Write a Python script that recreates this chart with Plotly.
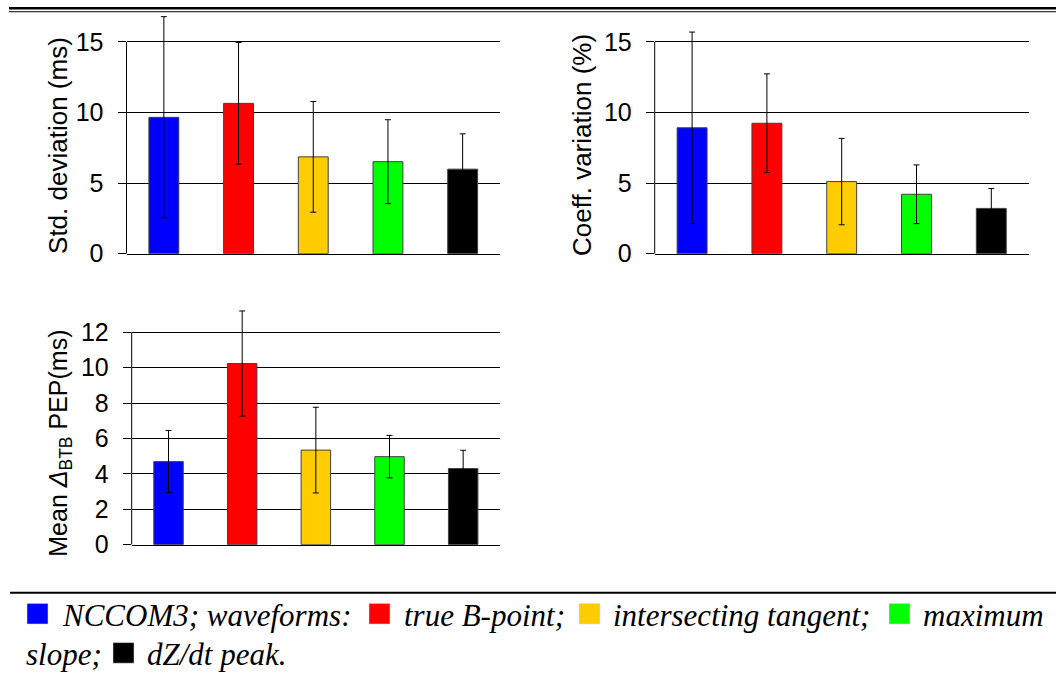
import plotly.graph_objects as go

W, H = 1056, 686

categories = ["NCCOM3", "true B-point", "intersecting tangent", "maximum slope", "dZ/dt peak"]
colors = ["#0000FF", "#FF0000", "#FFCC00", "#00FF00", "#000000"]

std_dev = [9.66, 10.65, 6.86, 6.52, 5.99]
std_dev_err = [7.13, 4.31, 3.92, 2.97, 2.50]

coeff_var = [8.92, 9.24, 5.11, 4.21, 3.21]
coeff_var_err = [6.78, 3.50, 3.06, 2.08, 1.41]

mean_pep = [4.69, 10.23, 5.34, 4.97, 4.30]
mean_pep_err = [1.76, 2.97, 2.42, 1.20, 1.03]

titles = ["Std. deviation (ms)", "Coeff. variation (%)", "Mean <i>Δ</i><sub>BTB</sub> PEP(ms)"]
title_sizes = [26, 26, 25]
tick_sets = [[0, 5, 10, 15], [0, 5, 10, 15], [0, 2, 4, 6, 8, 10, 12]]
axis_max = [15, 15, 12]

legend_line1 = [("NCCOM3; waveforms:", 0), ("true B-point;", 1), ("intersecting tangent;", 2), ("maximum", 3)]
legend_line2 = [("slope;", None), ("dZ/dt peak.", 4)]


def px(x):
    return x / W


def py(y):
    return 1 - y / H


fig = go.Figure()

panels = [
    dict(vals=std_dev, err=std_dev_err, xd=[126.5, 500], yd=[259, 14], rng=[0, 17]),
    dict(vals=coeff_var, err=coeff_var_err, xd=[654.7, 1028.7], yd=[259, 14], rng=[0, 17]),
    dict(vals=mean_pep, err=mean_pep_err, xd=[131.7, 500], yd=[556, 312], rng=[0, 13.5]),
]

for i, p in enumerate(panels):
    n = "" if i == 0 else str(i + 1)
    fig.add_trace(go.Bar(
        x=categories, y=p["vals"],
        marker=dict(color=colors, line=dict(color="#404040", width=1)),
        error_y=dict(type="data", array=p["err"], visible=True, color="#000000", thickness=1, width=3),
        xaxis="x" + n, yaxis="y" + n, showlegend=False,
    ))
    fig.update_layout(**{
        "xaxis" + n: dict(domain=[px(p["xd"][0]), px(p["xd"][1])], anchor="y" + n,
                           showticklabels=False, ticks="", showgrid=False, zeroline=False,
                           showline=True, linecolor="#000000", linewidth=1, fixedrange=True),
        "yaxis" + n: dict(domain=[py(p["yd"][0]), py(p["yd"][1])], anchor="x" + n,
                           range=p["rng"], tickvals=tick_sets[i], ticks="outside", ticklen=8,
                           tickcolor="#000000", showgrid=True, gridcolor="#000000", gridwidth=1,
                           zeroline=False, showline=False, ticklabelstandoff=9,
                           tickfont=dict(family="Liberation Sans, Arial", size=25, color="#000000")),
    })
    # vertical axis line from 0 up to the top tick
    fig.add_shape(type="line", xref=("x" + n) + " domain", yref="y" + n,
                  x0=0, x1=0, y0=0, y1=axis_max[i], line=dict(color="#000000", width=1))

# axis titles
title_pos = [(58, 149), (582, 148), (60, 453)]
for t, (tx, ty), fs in zip(titles, title_pos, title_sizes):
    fig.add_annotation(text=t, x=px(tx), y=py(ty), xref="paper", yref="paper",
                       textangle=-90, showarrow=False, xanchor="center", yanchor="middle",
                       font=dict(family="Liberation Sans, Arial", size=fs, color="#000000"))

# horizontal rules
fig.add_shape(type="line", xref="paper", yref="paper", x0=px(9), x1=1, y0=py(8.5), y1=py(8.5),
              line=dict(color="#000000", width=2.5))
fig.add_shape(type="line", xref="paper", yref="paper", x0=px(9), x1=1, y0=py(12), y1=py(12),
              line=dict(color="#000000", width=1))
fig.add_shape(type="line", xref="paper", yref="paper", x0=px(10), x1=1, y0=py(605), y1=py(605),
              line=dict(color="#000000", width=2))

# caption legend
line1_pos = [(27, 60), (369, 402), (579, 611), (889, 921)]
line2_pos = [(None, 24), (113, 145)]
legend_font = dict(family="Liberation Serif, Times New Roman", size=31, color="#000000")


def add_legend_line(items, pos, base):
    for (txt, ci), (sq, tx) in zip(items, pos):
        if ci is not None and sq is not None:
            fig.add_shape(type="rect", xref="paper", yref="paper",
                          x0=px(sq), x1=px(sq + 21), y0=py(base), y1=py(base - 21),
                          fillcolor=colors[ci], line=dict(color="#e0e0e0", width=0.5))
        fig.add_annotation(text="<i>" + txt + "</i>", x=px(tx), y=py(base - 9), xref="paper", yref="paper",
                           showarrow=False, xanchor="left", yanchor="middle", font=legend_font)


add_legend_line(legend_line1, line1_pos, 637)
add_legend_line(legend_line2, line2_pos, 677)

fig.update_layout(width=W, height=H, margin=dict(l=0, r=0, t=0, b=0),
                  paper_bgcolor="#FFFFFF", plot_bgcolor="#FFFFFF", bargap=0.6)

fig.write_html("out.html")
